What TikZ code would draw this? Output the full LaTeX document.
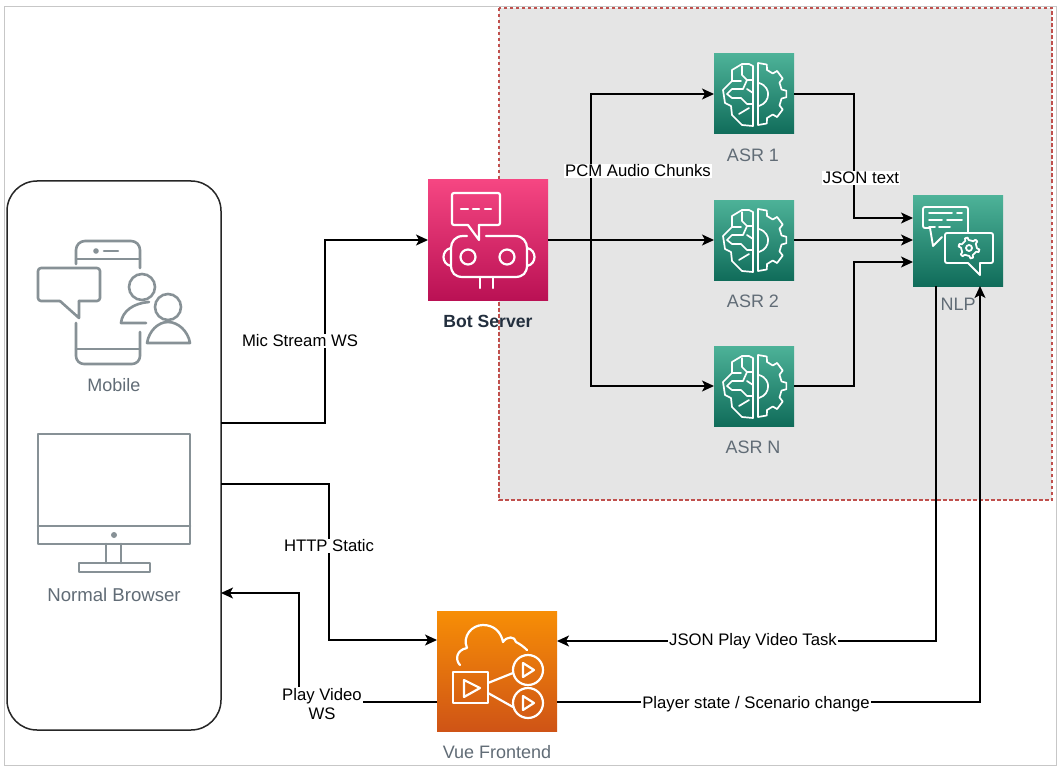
\documentclass[tikz,border=0pt]{standalone}
\usepackage{fontspec}
\setmainfont{Liberation Sans}
\usetikzlibrary{arrows.meta}
\definecolor{icongray}{HTML}{879196}
\definecolor{labelgray}{HTML}{616C76}
\definecolor{darklabel}{HTML}{232F3E}
\definecolor{regionred}{HTML}{C0504D}
\tikzset{
  x=1pt,y=-1pt,
  frame/.style={draw=black!22,line width=1pt},
  region/.style={draw=regionred,fill=black!10,line width=1.1pt,dash pattern=on 3.5pt off 2.5pt},
  clientbox/.style={draw=black!85,line width=1.5pt,rounded corners=30pt,fill=white},
  tile/.style={inner sep=0pt,outer sep=0pt,minimum size=#1,draw=none},
  greentile/.style={tile=#1,top color={rgb,255:red,77;green,178;blue,152},bottom color={rgb,255:red,16;green,108;blue,90}},
  pinktile/.style={tile=#1,top color={rgb,255:red,245;green,70;blue,130},bottom color={rgb,255:red,186;green,17;blue,84}},
  orangetile/.style={tile=#1,top color={rgb,255:red,247;green,142;blue,6},bottom color={rgb,255:red,207;green,84;blue,22}},
  wire/.style={draw=black,line width=1.3pt},
  arrowwire/.style={wire,-{Stealth[length=12pt,width=11pt,inset=3pt]}},
  edgelabel/.style={fill=white,inner sep=1pt,font=\fontsize{16.7}{19}\selectfont,align=center},
  caption/.style={text=labelgray,font=\fontsize{18}{20}\selectfont},
  boldcaption/.style={text=darklabel,font=\fontsize{17.6}{20}\selectfont\bfseries},
  grayicon/.style={draw=icongray,line width=2.6pt,line cap=round,line join=round,fill=none},
  whiteicon/.style={draw=white,line width=1.6pt,line cap=round,line join=round,fill=none},
}
\newcommand{\brainicon}[2]{%
\begin{scope}[shift={(#1,#2)},whiteicon,line width=1.7pt]
 \draw (39,12) -- (35,10) -- (28,10) -- (18,16) -- (18,27) -- (9,36) -- (11,49) -- (17,52) -- (18,61) -- (28,71) -- (39,72) -- cycle;
 \draw (28,12) -- (28,21) -- (33,26) -- (39,26);
 \draw (18,27) -- (27,27);
 \draw (33,26) -- (29,35) -- (18,35) -- (13,40) -- (18,44) -- (27,44) -- (33,50) -- (39,50);
 \draw (25,60) -- (35,54);
 \draw (33,35) -- (39,39);
 \begin{scope}[shift={(44,40)},xscale=.92]
  \draw (90:31) -- (72:31) -- (68:26) -- (52:26) -- (48:31) -- (30:31) -- (26:26) -- (10:26) -- (6:31) -- (-6:31) -- (-10:26) -- (-26:26) -- (-30:31) -- (-48:31) -- (-52:26) -- (-68:26) -- (-72:31) -- (-90:31) -- cycle;
  \draw (1,-11) .. controls (9,-9) and (11,-3) .. (11,0) .. controls (11,5) and (8,10) .. (1,12);
 \end{scope}
\end{scope}}
\begin{document}
\begin{tikzpicture}
\useasboundingbox (0,0) rectangle (1062,770);
\fill[white] (0,0) rectangle (1062,770);
\draw[frame] (4,7) rectangle (1056,765);
\draw[region] (499,8) rectangle (1052,500);
\draw[clientbox] (7,181) rectangle (221,730);
\node[inner sep=0pt,outer sep=0pt,minimum width=214pt,minimum height=549pt] (client) at (114,455.5) {};

% tiles
\node[pinktile=120pt] (bot) at (488,240) {};
\node[greentile=80pt] (asra) at (754,94) {};
\node[greentile=80pt] (asrb) at (754,240) {};
\node[greentile=80pt] (asrc) at (754,386) {};
\node[greentile=90pt] (nlp) at (958,241) {};
\node[orangetile=120pt] (vue) at (497,671) {};

% connector ends
\coordinate (cmic) at (221,423);
\coordinate (chttp) at (221,484);
\coordinate (cplay) at (221,593);
\coordinate (split) at (591,240);
\coordinate (vin) at (437,640);
\coordinate (vout) at (437,702);
\coordinate (vtask) at (557,641);
\coordinate (vstate) at (557,702);
\coordinate (ntask) at (936,286);
\coordinate (nstate) at (980,286);
\coordinate (na) at (913,218);
\coordinate (nb) at (913,240);
\coordinate (nc) at (913,262);

% connectors
\draw[arrowwire] (cmic) -- (325,423) -- (325,240) -- (bot.west);
\draw[arrowwire] (chttp) -- (329,484) -- (329,640) -- (vin);
\draw[arrowwire] (vout) -- (299,702) -- (299,593) -- (cplay);
\draw[arrowwire] (bot.east) -- (asrb.west);
\draw[arrowwire] (split) -- (591,94) -- (asra.west);
\draw[arrowwire] (split) -- (591,386) -- (asrc.west);
\draw[arrowwire] (asra.east) -- (854,94) -- (854,218) -- (na);
\draw[arrowwire] (asrb.east) -- (nb);
\draw[arrowwire] (asrc.east) -- (854,386) -- (854,262) -- (nc);
\draw[arrowwire] (ntask) -- (936,641) -- (vtask);
\draw[arrowwire] (vstate) -- (980,702) -- (nstate);

% edge labels
\node[edgelabel] (lmic) at (300,341) {Mic Stream WS};
\node[edgelabel] (lhttp) at (329,546) {HTTP Static};
\node[edgelabel] (lplay) at (322,704) {Play Video\\WS};
\node[edgelabel] (lpcm) at (638,171) {PCM Audio Chunks};
\node[edgelabel] (ljson) at (861,178) {JSON text};
\node[edgelabel] (ltask) at (753,641) {JSON Play Video Task};
\node[edgelabel] (lstate) at (756,704) {Player state / Scenario change};

% captions
\node[caption] (tmob) at (114,385) {Mobile};
\node[caption,font=\fontsize{18.6}{20}\selectfont] (tbro) at (114,595) {Normal Browser};
\node[boldcaption] (tbot) at (488,321) {Bot Server};
\node[caption] (ta) at (753,155) {ASR 1};
\node[caption] (tb) at (753,301) {ASR 2};
\node[caption] (tc) at (753,447) {ASR N};
\node[caption] (tn) at (958,304) {NLP};
\node[caption] (tv) at (497,752) {Vue Frontend};

% mobile icon
\begin{scope}[grayicon]
 \draw (76,264) -- (76,250) arc[start angle=180,end angle=270,radius=9] -- (131,241) arc[start angle=270,end angle=360,radius=9] -- (140,268);
 \draw (76,259) -- (140,259);
 \fill[icongray] (96,251) circle (2.8);
 \draw (104,251) -- (118,251);
 \draw (76,323) -- (76,356) arc[start angle=180,end angle=90,radius=8] -- (132,364) arc[start angle=90,end angle=0,radius=8] -- (140,332);
 \draw (76,349) -- (140,349);
 \draw[rounded corners=3pt] (60,301) -- (38,301) -- (38,268) -- (100,268) -- (100,301) -- (79,301);
 \draw (60,301) -- (79,318) -- (79,301);
 \draw (142,287) circle (13);
 \draw (146,323) -- (121,323) .. controls (122,311) and (134,303) .. (149,302);
 \draw (168,307) circle (13);
 \draw (147,343) -- (190,343) .. controls (188,331) and (178,322) .. (168,322) .. controls (158,322) and (149,331) .. (147,343) -- cycle;
 % monitor
 \draw (38,434) rectangle (190,544);
 \draw (38,526) -- (190,526);
 \fill[icongray] (114,535) circle (3);
 \draw (106,544) -- (106,563);
 \draw (121,544) -- (121,563);
 \draw (79,563) rectangle (150,572);
\end{scope}

% bot icon
\begin{scope}[whiteicon,line width=2.2pt]
 \draw[rounded corners=2pt] (468,225) -- (452,225) -- (452,193) -- (500,193) -- (500,225) -- (479,225);
 \draw (468,225) -- (479,240) -- (479,225);
 \draw (461,209) -- (468,209) (473,209) -- (479,209) (485,209) -- (491,209);
 \draw (467,236) -- (463,236) .. controls (455,236) and (451,242) .. (451,248) -- (451,265) .. controls (451,273) and (455,277) .. (463,277) -- (515,277) .. controls (523,277) and (527,273) .. (527,265) -- (527,248) .. controls (527,242) and (523,236) .. (515,236) -- (486,236);
 \draw (468,257) circle (7.5);
 \draw (507,257) circle (7.5);
 \draw (451,248) .. controls (441,250) and (441,264) .. (451,266);
 \draw (527,248) .. controls (537,250) and (537,264) .. (527,266);
 \draw (480,277) -- (480,288) (493,277) -- (493,288);
\end{scope}

% brain icons
\brainicon{714}{54}
\brainicon{714}{200}
\brainicon{714}{346}

% nlp icon
\begin{scope}[whiteicon,line width=1.9pt]
 \draw[rounded corners=2pt] (968,232) -- (968,207) -- (923,207) -- (923,228) -- (930,228);
 \draw (930,228) -- (933,246) -- (942,237);
 \draw (929,213) -- (952,213) (957,213) -- (962,213);
 \draw (929,220) -- (942,220) (947,220) -- (962,220);
 \draw (929,227) -- (935,227) (939,227) -- (950,227);
 \draw[rounded corners=2pt] (968,263) -- (945,263) -- (945,233) -- (993,233) -- (993,263) -- (980,263);
 \draw (968,263) -- (980,275) -- (980,263);
 \begin{scope}[shift={(969,248)},line width=1.8pt]
  \draw (8:10.5) -- (22:10.5) -- (28:8) -- (62:8) -- (68:10.5) -- (82:10.5) -- (88:8)
   -- (122:8) -- (128:10.5) -- (142:10.5) -- (148:8) -- (182:8) -- (188:10.5) -- (202:10.5) -- (208:8)
   -- (242:8) -- (248:10.5) -- (262:10.5) -- (268:8) -- (302:8) -- (308:10.5) -- (322:10.5) -- (328:8) -- (2:8) -- cycle;
  \draw (0,0) circle (3);
 \end{scope}
\end{scope}

% vue icon
\begin{scope}[whiteicon,line width=2.2pt]
 \draw (460,665) .. controls (455,660) and (456,650) .. (467,648) .. controls (462,636) and (472,625) .. (483,625) .. controls (494,625) and (501,632) .. (503,642) .. controls (507,636) and (515,636) .. (516,642) .. controls (520,644) and (524,647) .. (527,650);
 \draw (453,672) rectangle (488,703);
 \draw (464,680) -- (480,688) -- (464,697) -- cycle;
 \draw (528,670) circle (15);
 \draw (528,703) circle (15);
 \draw (523,663) -- (534,670) -- (523,677) -- cycle;
 \draw (523,696) -- (534,703) -- (523,710) -- cycle;
 \draw (488,683) -- (513,673);
 \draw (488,693) -- (513,707);
\end{scope}
\end{tikzpicture}
\end{document}
